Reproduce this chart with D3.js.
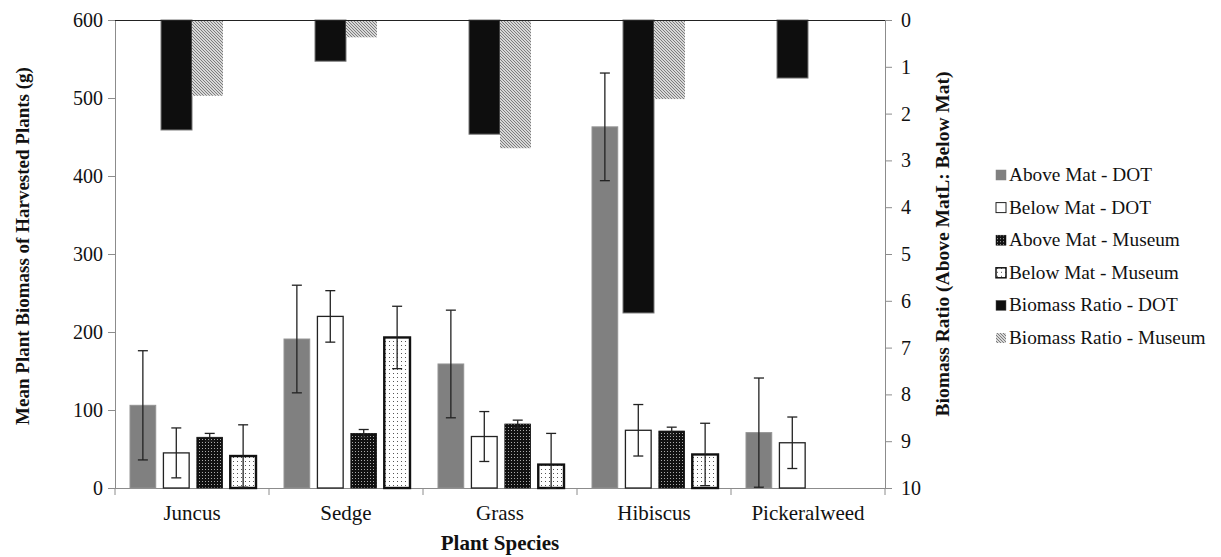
<!DOCTYPE html>
<html>
<head>
<meta charset="utf-8">
<script src="https://cdn.jsdelivr.net/npm/d3@7"></script>
<style>
  html, body { margin: 0; padding: 0; background: #fff; }
  svg { display: block; }
  svg text { font-family: "Liberation Serif", "Times New Roman", Times, serif; fill: #111; }
</style>
</head>
<body>
<svg id="chart" width="1221" height="557"></svg>
<script>
// Plant species along the x axis
const species = ["Juncus", "Sedge", "Grass", "Hibiscus", "Pickeralweed"];

// Mean biomass (g) per species, with error half-widths
const aboveMatDOT       = [106, 191, 159, 463, 71];
const aboveMatDOTErr    = [70, 69, 69, 69, 70];
const belowMatDOT       = [45, 220, 66, 74, 58];
const belowMatDOTErr    = [32, 33, 32, 33, 33];
const aboveMatMuseum    = [65, 70, 82, 73, null];
const aboveMatMuseumErr = [5, 5, 5, 5, null];
const belowMatMuseum    = [41, 193, 30, 43, null];
const belowMatMuseumErr = [40, 40, 40, 40, null];

// Above : below mat biomass ratio (secondary axis, reversed)
const ratioDOT    = [2.35, 0.88, 2.44, 6.26, 1.24];
const ratioMuseum = [1.62, 0.37, 2.74, 1.69, null];

// Axis ticks
const leftTicks  = [0, 100, 200, 300, 400, 500, 600];
const rightTicks = [0, 1, 2, 3, 4, 5, 6, 7, 8, 9, 10];

const seriesNames = [
  "Above Mat - DOT", "Below Mat - DOT", "Above Mat - Museum",
  "Below Mat - Museum", "Biomass Ratio - DOT", "Biomass Ratio - Museum"
];

const svg = d3.select("#chart");
const plot = { left: 115, right: 885, top: 20, bottom: 488 };

// ---- fill patterns ----
const defs = svg.append("defs");
// dark fill with light pinholes
const pDense = defs.append("pattern").attr("id", "pDense")
  .attr("patternUnits", "userSpaceOnUse").attr("width", 3).attr("height", 3);
pDense.append("rect").attr("width", 3).attr("height", 3).attr("fill", "#111");
pDense.append("rect").attr("x", 1).attr("y", 1).attr("width", 1).attr("height", 1).attr("fill", "#aaa");
// white with sparse dots
const pSparse = defs.append("pattern").attr("id", "pSparse")
  .attr("patternUnits", "userSpaceOnUse").attr("width", 4).attr("height", 4);
pSparse.append("rect").attr("width", 4).attr("height", 4).attr("fill", "#fff");
pSparse.append("rect").attr("x", 1).attr("y", 1).attr("width", 1).attr("height", 1).attr("fill", "#555");
// downward diagonal hatching
const pHatch = defs.append("pattern").attr("id", "pHatch")
  .attr("patternUnits", "userSpaceOnUse").attr("width", 3).attr("height", 3);
pHatch.append("rect").attr("width", 3).attr("height", 3).attr("fill", "#fff");
pHatch.append("path").attr("d", "M-1,-1 L4,4 M-1,2 L1,4 M2,-1 L4,1")
  .attr("stroke", "#777").attr("stroke-width", 1.1);

// ---- scales ----
const x = d3.scaleBand().domain(species).range([plot.left, plot.right]);
const yL = d3.scaleLinear().domain([0, 600]).range([plot.bottom, plot.top]);
const yR = d3.scaleLinear().domain([0, 10]).range([plot.top, plot.bottom]);

const primaryKeys = ["aDOT", "bDOT", "aMus", "bMus"];
const xInner = d3.scaleBand().domain(primaryKeys)
  .range([15, 141]).paddingInner(0.23);
const ratioKeys = ["rDOT", "rMus"];
const xRatio = d3.scaleBand().domain(ratioKeys).range([77 - 31, 77 + 31]);

const primary = [
  { key: "aDOT", vals: aboveMatDOT, errs: aboveMatDOTErr, fill: "#808080", stroke: "#939393", sw: 1 },
  { key: "bDOT", vals: belowMatDOT, errs: belowMatDOTErr, fill: "#fff", stroke: "#222", sw: 1.3 },
  { key: "aMus", vals: aboveMatMuseum, errs: aboveMatMuseumErr, fill: "url(#pDense)", stroke: "#111", sw: 0.8 },
  { key: "bMus", vals: belowMatMuseum, errs: belowMatMuseumErr, fill: "url(#pSparse)", stroke: "#111", sw: 2.4 }
];
const ratios = [
  { key: "rDOT", vals: ratioDOT, fill: "#0e0e0e", stroke: "#777", sw: 1 },
  { key: "rMus", vals: ratioMuseum, fill: "url(#pHatch)", stroke: "none", sw: 0 }
];

// ---- axes ----
const gL = svg.append("g").attr("transform", `translate(${plot.left},0)`)
  .call(d3.axisLeft(yL).tickValues(leftTicks).tickSize(7).tickPadding(5).tickFormat(d3.format("d")));
const gR = svg.append("g").attr("transform", `translate(${plot.right},0)`)
  .call(d3.axisRight(yR).tickValues(rightTicks).tickSize(7).tickPadding(9).tickFormat(d3.format("d")));
const gX = svg.append("g").attr("transform", `translate(0,${plot.bottom})`)
  .call(d3.axisBottom(x).tickSize(0).tickPadding(17));

[gL, gR, gX].forEach(g => {
  g.attr("font-family", null);
  g.select(".domain").attr("stroke", "#8c8c8c").attr("stroke-width", 1);
  g.selectAll(".tick line").attr("stroke", "#8c8c8c");
});
gL.selectAll("text").attr("font-size", 20);
gR.selectAll("text").attr("font-size", 20);
gX.selectAll("text").attr("font-size", 21);
gX.select(".domain").attr("d", `M${plot.left},0.5H${plot.right}`);
// category separators below the axis
gX.selectAll(".sep").data(species.concat(["end"])).join("line")
  .attr("class", "sep")
  .attr("x1", (d, i) => i < species.length ? x(d) : plot.right)
  .attr("x2", (d, i) => i < species.length ? x(d) : plot.right)
  .attr("y1", 0).attr("y2", 7).attr("stroke", "#8c8c8c");

// ---- primary bars ----
const gBars = svg.append("g");
primary.forEach(s => {
  const data = species.map((sp, i) => ({ sp, v: s.vals[i], e: s.errs[i] })).filter(d => d.v != null);
  gBars.selectAll(null).data(data).join("rect")
    .attr("x", d => x(d.sp) + xInner(s.key))
    .attr("y", d => yL(d.v))
    .attr("width", xInner.bandwidth())
    .attr("height", d => yL(0) - yL(d.v))
    .attr("fill", s.fill).attr("stroke", s.stroke).attr("stroke-width", s.sw);
});

// ---- error bars ----
const gErr = svg.append("g").attr("stroke", "#222").attr("stroke-width", 1.3);
primary.forEach(s => {
  const data = species.map((sp, i) => ({ sp, v: s.vals[i], e: s.errs[i] })).filter(d => d.v != null);
  data.forEach(d => {
    const cx = x(d.sp) + xInner(s.key) + xInner.bandwidth() / 2;
    const lo = Math.max(0, d.v - d.e), hi = d.v + d.e;
    gErr.append("line").attr("x1", cx).attr("x2", cx).attr("y1", yL(lo)).attr("y2", yL(hi));
    gErr.append("line").attr("x1", cx - 5).attr("x2", cx + 5).attr("y1", yL(lo)).attr("y2", yL(lo));
    gErr.append("line").attr("x1", cx - 5).attr("x2", cx + 5).attr("y1", yL(hi)).attr("y2", yL(hi));
  });
});

// ---- ratio bars, hanging from the top of the reversed axis ----
const gRatio = svg.append("g");
ratios.forEach(s => {
  const data = species.map((sp, i) => ({ sp, v: s.vals[i] })).filter(d => d.v != null);
  gRatio.selectAll(null).data(data).join("rect")
    .attr("x", d => x(d.sp) + xRatio(s.key))
    .attr("y", yR(0))
    .attr("width", xRatio.bandwidth())
    .attr("height", d => yR(d.v) - yR(0))
    .attr("fill", s.fill).attr("stroke", s.stroke).attr("stroke-width", s.sw);
});

// top border of the plot
svg.append("line").attr("x1", plot.left).attr("x2", plot.right)
  .attr("y1", plot.top + 0.5).attr("y2", plot.top + 0.5).attr("stroke", "#222").attr("stroke-width", 1.2);

// ---- axis titles ----
const midY = (plot.top + plot.bottom) / 2;
svg.append("text").attr("transform", `translate(29,${midY - 8}) rotate(-90)`)
  .attr("text-anchor", "middle").attr("font-weight", "bold").attr("font-size", 19)
  .text("Mean Plant Biomass of Harvested Plants (g)");
svg.append("text").attr("transform", `translate(949,${midY - 10}) rotate(-90)`)
  .attr("text-anchor", "middle").attr("font-weight", "bold").attr("font-size", 19.5)
  .text("Biomass Ratio (Above MatL: Below Mat)");
svg.append("text").attr("x", (plot.left + plot.right) / 2).attr("y", 550)
  .attr("text-anchor", "middle").attr("font-weight", "bold").attr("font-size", 21)
  .text("Plant Species");

// ---- legend ----
const legendFills = [
  { fill: "#808080", stroke: "#808080", sw: 0.5 },
  { fill: "#fff", stroke: "#222", sw: 1 },
  { fill: "url(#pDense)", stroke: "#111", sw: 0.5 },
  { fill: "url(#pSparse)", stroke: "#111", sw: 1.5 },
  { fill: "#0e0e0e", stroke: "#555", sw: 0.5 },
  { fill: "url(#pHatch)", stroke: "none", sw: 0 }
];
const gLeg = svg.append("g").attr("transform", "translate(996,181)");
const items = gLeg.selectAll("g").data(seriesNames).join("g")
  .attr("transform", (d, i) => `translate(0,${i * 32.6})`);
items.append("rect").attr("x", 0).attr("y", -11).attr("width", 10).attr("height", 10)
  .attr("fill", (d, i) => legendFills[i].fill)
  .attr("stroke", (d, i) => legendFills[i].stroke)
  .attr("stroke-width", (d, i) => legendFills[i].sw);
items.append("text").attr("x", 13).attr("y", 0)
  .attr("font-size", 19.3).text(d => d);
</script>
</body>
</html>
